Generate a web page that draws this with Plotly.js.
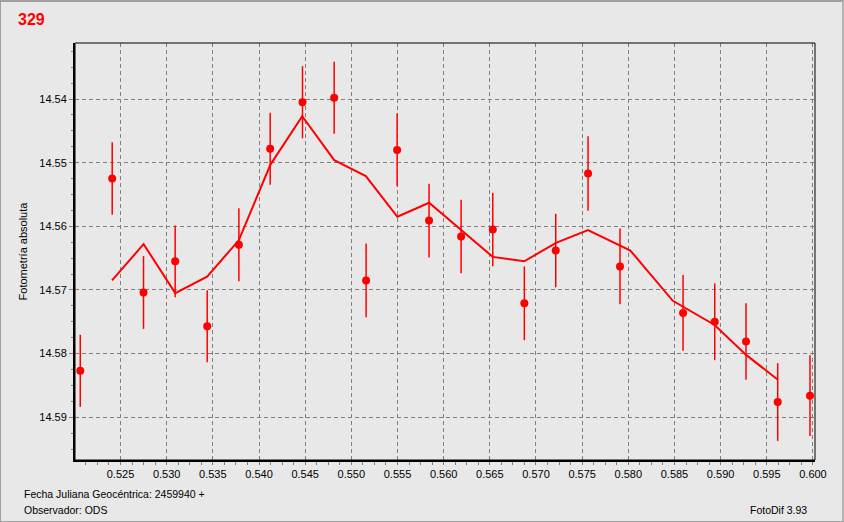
<!DOCTYPE html>
<html>
<head>
<meta charset="utf-8">
<script src="https://cdn.plot.ly/plotly-3.0.1.min.js"></script>
<style>
  html, body { margin: 0; padding: 0; background: #e8e8e9; }
  #wrap { position: relative; width: 844px; height: 522px; }
  #chart { width: 844px; height: 522px; }
  #frame { position: absolute; left: 0; top: 0; width: 844px; height: 522px; box-sizing: border-box;
           border: 1px solid #a0a0a0; border-top: 2px solid #a0a0a0; border-right: 2px solid #b4b4b4; pointer-events: none; }
</style>
</head>
<body>
<div id="wrap">
  <div id="chart"></div>
  <div id="frame"></div>
</div>
<script>
// Observations (Julian date fraction, absolute photometry, error)
const obsX = [0.52064, 0.52410, 0.52749, 0.53092, 0.53439, 0.53782, 0.54121, 0.54471,
              0.54814, 0.55160, 0.55496, 0.55842, 0.56189, 0.56532, 0.56874, 0.57214,
              0.57564, 0.57910, 0.58593, 0.58936, 0.59275, 0.59618, 0.59968];
const obsY = [14.5827, 14.5525, 14.5704, 14.5655, 14.5757, 14.5629, 14.5478, 14.5405,
              14.5398, 14.5685, 14.5480, 14.5591, 14.5616, 14.5605, 14.5721, 14.5638,
              14.5517, 14.5663, 14.5736, 14.5750, 14.5781, 14.5876, 14.5866];
const obsErr = [0.00566, 0.00569, 0.00572, 0.00564, 0.00566, 0.00574, 0.00566, 0.00566,
                0.00566, 0.00579, 0.00572, 0.00579, 0.00579, 0.00579, 0.00579, 0.00579,
                0.00587, 0.00595, 0.00595, 0.00603, 0.00600, 0.00611, 0.00634];

// Smoothed curve as drawn in the chart
const smoothX = [0.52408, 0.52750, 0.53093, 0.53438, 0.53781, 0.54124, 0.54468, 0.54815,
                 0.55157, 0.55499, 0.55842, 0.56188, 0.56532, 0.56873, 0.57217, 0.57563,
                 0.58022, 0.58482, 0.58935, 0.59276, 0.59620];
const smoothY = [14.5685, 14.5628, 14.5705, 14.5679, 14.5622, 14.5503, 14.5427, 14.5496,
                 14.5521, 14.5585, 14.5563, 14.5605, 14.5648, 14.5655, 14.5626, 14.5606,
                 14.5638, 14.5717, 14.5755, 14.5802, 14.5841];

const xTickVals = [0.525, 0.530, 0.535, 0.540, 0.545, 0.550, 0.555, 0.560,
                   0.565, 0.570, 0.575, 0.580, 0.585, 0.590, 0.595, 0.600];
const yTickVals = [14.54, 14.55, 14.56, 14.57, 14.58, 14.59];

const chartTitle = '329';
const yTitle = 'Fotometría absoluta';
const xNote = 'Fecha Juliana Geocéntrica: 2459940 +';
const observer = 'Observador: ODS';
const software = 'FotoDif 3.93';

const RED = '#ff0000';
const BG = '#e8e8e9';
const GRID = '#7f7f7f';

const traces = [
  {
    type: 'scatter', mode: 'lines', x: smoothX, y: smoothY,
    line: { color: RED, width: 2 }, hoverinfo: 'skip', showlegend: false
  },
  {
    type: 'scatter', mode: 'markers', x: obsX, y: obsY,
    marker: { color: RED, size: 8 },
    error_y: { type: 'data', array: obsErr, visible: true, color: RED, thickness: 1.5, width: 0 },
    showlegend: false
  }
];

const layout = {
  width: 844, height: 522,
  paper_bgcolor: BG, plot_bgcolor: BG,
  margin: { l: 75, r: 29, t: 43, b: 62, pad: 0 },
  font: { family: 'Liberation Sans, Arial, sans-serif', size: 11, color: '#000000' },
  showlegend: false,
  title: {
    text: '<b>' + chartTitle + '</b>',
    font: { family: 'Liberation Sans, Arial, sans-serif', size: 16, color: RED },
    xref: 'container', yref: 'container', x: 18 / 844, xanchor: 'left',
    y: 1 - 19 / 522, yanchor: 'middle'
  },
  xaxis: {
    range: [0.52007, 0.60022],
    tickmode: 'array', tickvals: xTickVals, tickformat: '.3f',
    ticks: 'outside', ticklen: 3, tickcolor: GRID, tickwidth: 1,
    minor: { dtick: 0.00125, tick0: 0.525, ticks: 'outside', ticklen: 3, tickcolor: GRID, showgrid: false },
    showgrid: true, gridcolor: GRID, gridwidth: 1, griddash: '4px,3px',
    showline: true, linecolor: '#000000', linewidth: 2, mirror: false,
    zeroline: false,
    tickfont: { size: 11, color: '#000000' }
  },
  yaxis: {
    range: [14.59671, 14.53120],
    tickmode: 'array', tickvals: yTickVals, tickformat: '.2f',
    ticks: 'outside', ticklen: 4, tickcolor: GRID, tickwidth: 1,
    minor: { dtick: 0.0025, tick0: 14.54, ticks: 'outside', ticklen: 2, tickcolor: GRID, showgrid: false },
    showgrid: true, gridcolor: GRID, gridwidth: 1, griddash: '4px,3px',
    showline: true, linecolor: '#000000', linewidth: 2, mirror: false,
    zeroline: false,
    tickfont: { size: 11, color: '#000000' },
    title: { text: yTitle, font: { size: 11, color: '#000000' }, standoff: 9 }
  },
  shapes: [
    { type: 'rect', xref: 'paper', yref: 'paper', x0: 0, x1: 1, y0: 0, y1: 1,
      line: { color: '#000000', width: 1 }, fillcolor: 'rgba(0,0,0,0)', layer: 'above' }
  ],
  annotations: [
    { text: xNote, xref: 'paper', yref: 'paper', x: (22 - 75) / 740, y: -(494 - 460) / 417,
      xanchor: 'left', yanchor: 'middle', showarrow: false, font: { size: 10.5, color: '#000000' } },
    { text: observer, xref: 'paper', yref: 'paper', x: (22 - 75) / 740, y: -(510 - 460) / 417,
      xanchor: 'left', yanchor: 'middle', showarrow: false, font: { size: 10.5, color: '#000000' } },
    { text: software, xref: 'paper', yref: 'paper', x: (809 - 75) / 740, y: -(510 - 460) / 417,
      xanchor: 'right', yanchor: 'middle', showarrow: false, font: { size: 10.5, color: '#000000' } }
  ]
};

Plotly.newPlot('chart', traces, layout, { staticPlot: true, displayModeBar: false });
</script>
</body>
</html>
